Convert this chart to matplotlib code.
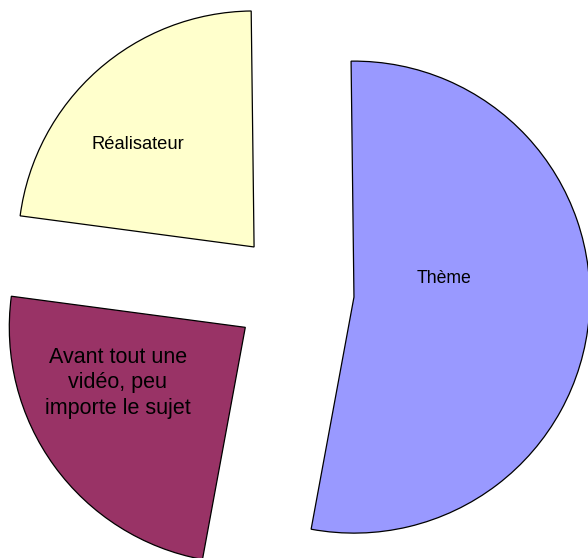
import matplotlib
matplotlib.use("Agg")
import matplotlib.pyplot as plt

labels = ["Thème", "Avant tout une\nvidéo, peu\nimporte le sujet", "Réalisateur"]
values = [53.1, 24.2, 22.7]
colors = ["#9999FF", "#993366", "#FFFFCC"]

W, H = 588, 558
R = 236.0  # pixel radius
cx, cy = 294, 292

fig = plt.figure(figsize=(W / 100, H / 100), dpi=100)
ax = fig.add_axes([0, 0, 1, 1])
ax.pie(values, colors=colors, startangle=90.7, counterclock=False,
       explode=[0.255] * 3, radius=1.0,
       wedgeprops=dict(edgecolor="black", linewidth=0.9))
ax.set_xlim(-cx / R, (W - cx) / R)
ax.set_ylim(-(H - cy) / R, cy / R)
ax.set_aspect("auto")
ax.axis("off")

font = "Liberation Sans"
pos = [(0.636, 0.059), (-0.746, -0.385), (-0.661, 0.623)]
sizes = [12.7, 15.5, 13.2]
for lab, (x, y), s in zip(labels, pos, sizes):
    ax.text(x, y, lab, ha="center", va="center", multialignment="center",
            fontsize=s, family=font, color="black", linespacing=1.3)

fig.savefig("out.png", dpi=100)
